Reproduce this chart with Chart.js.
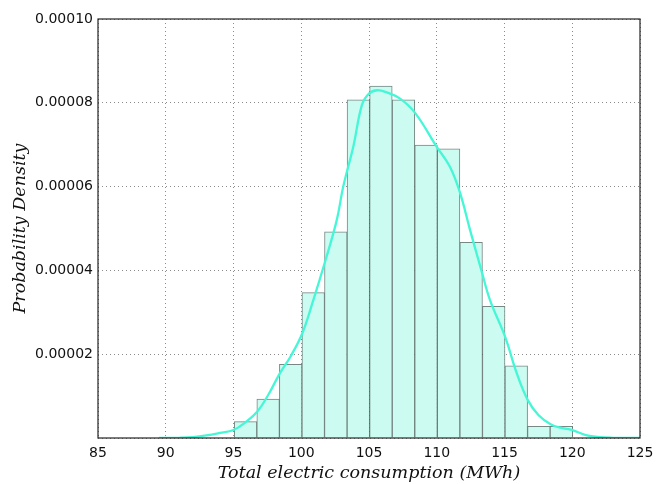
<!DOCTYPE html>
<html>
<head>
<meta charset="utf-8">
<script src="https://cdn.jsdelivr.net/npm/chart.js@4"></script>
<style>
  html, body { margin: 0; padding: 0; background: #fff; }
  #wrap { width: 656px; height: 484px; position: relative; }
</style>
</head>
<body>
<div id="wrap"><canvas id="chart-hist"></canvas></div>
<script>
// histogram bins (edges) and their density heights
const binEdges = [95.06, 96.72, 98.39, 100.05, 101.72, 103.38, 105.05, 106.71, 108.38, 110.04, 111.71, 113.37, 115.04, 116.70, 118.37, 120.03];
const binDensity = [3.9e-6, 9.3e-6, 1.76e-5, 3.47e-5, 4.92e-5, 8.07e-5, 8.40e-5, 8.07e-5, 6.99e-5, 6.90e-5, 4.67e-5, 3.14e-5, 1.72e-5, 2.8e-6, 2.8e-6];

// kernel density curve
const kdeX = [89.5, 91, 92, 93, 94, 95, 95.9, 96.76, 97.6, 98.43, 99.2, 100.08, 100.89, 101.75, 102.62, 103.1, 103.84, 104.48, 105.0, 105.6, 106.3, 107.29, 108.4, 110.0, 110.98, 111.72, 112.46, 113.32, 113.93, 115.04, 115.9, 116.71, 117.5, 118.4, 119.2, 120, 121, 122, 123, 125];
const kdeY = [0, 5e-8, 2e-7, 6e-7, 1.2e-6, 1.9e-6, 3.8e-6, 6.3e-6, 1.05e-5, 1.55e-5, 1.94e-5, 2.5e-5, 3.29e-5, 4.2e-5, 5.2e-5, 6.0e-5, 6.95e-5, 7.95e-5, 8.22e-5, 8.3e-5, 8.25e-5, 8.1e-5, 7.76e-5, 6.95e-5, 6.47e-5, 5.85e-5, 4.96e-5, 3.97e-5, 3.29e-5, 2.42e-5, 1.55e-5, 9.1e-6, 5.5e-6, 3.3e-6, 2.4e-6, 1.9e-6, 7e-7, 2e-7, 5e-8, 0];

// axis ranges / ticks
const xMin = 85, xMax = 125, xStep = 5;
const yMin = 0, yMax = 0.0001, yStep = 0.00002;

const histPoints = binDensity.map((d, i) => ({ x: (binEdges[i] + binEdges[i + 1]) / 2, y: d }));
const kdePoints = kdeX.map((x, i) => ({ x: x, y: kdeY[i] }));

// matplotlib-style box around the axes
const frame = {
  id: 'frame',
  afterDraw(chart) {
    const { ctx, chartArea: a } = chart;
    ctx.save();
    ctx.strokeStyle = '#222';
    ctx.lineWidth = 1.2;
    ctx.strokeRect(a.left, a.top, a.right - a.left, a.bottom - a.top);
    ctx.restore();
  }
};

const titleFont = { family: '"DejaVu Serif"', style: 'italic', size: 17.5 };
const tickFont = { family: '"DejaVu Sans"', size: 14 };

new Chart(document.getElementById('chart-hist'), {
  data: {
    datasets: [
      {
        type: 'line',
        data: kdePoints,
        borderColor: '#45f7d6',
        borderWidth: 2.3,
        pointRadius: 0,
        tension: 0.4,
        fill: false,
        order: 0
      },
      {
        type: 'bar',
        data: histPoints,
        backgroundColor: '#ccfcf1',
        borderColor: 'rgba(85,105,100,0.8)',
        borderWidth: 1,
        barPercentage: 1,
        categoryPercentage: 1,
        grouped: false,
        order: 1
      }
    ]
  },
  options: {
    responsive: true,
    maintainAspectRatio: false,
    animation: false,
    layout: { padding: { top: 19, right: 16, left: 0, bottom: 0 } },
    plugins: {
      legend: { display: false },
      tooltip: { enabled: false }
    },
    scales: {
      x: {
        type: 'linear',
        min: xMin,
        max: xMax,
        offset: false,
        z: 1,
        border: { display: false, dash: [1, 3] },
        grid: { color: 'rgba(0,0,0,0.45)', drawTicks: false, offset: false },
        ticks: { stepSize: xStep, color: '#111', font: tickFont, padding: 7, maxRotation: 0 },
        title: { display: true, text: 'Total electric consumption (MWh)', color: '#111', font: titleFont, padding: { top: 0, bottom: 0 } },
        afterFit: (s) => { s.height = 46; s.paddingLeft = 0; s.paddingRight = 0; }
      },
      y: {
        min: yMin,
        max: yMax,
        z: 1,
        border: { display: false, dash: [1, 3] },
        grid: { color: 'rgba(0,0,0,0.45)', drawTicks: false },
        ticks: {
          stepSize: yStep,
          color: '#111',
          font: tickFont,
          padding: 5,
          callback: (v) => v === 0 ? '' : v.toFixed(5)
        },
        title: { display: true, text: 'Probability Density', color: '#111', font: titleFont, padding: { top: 10, bottom: 10 } },
        afterFit: (s) => { s.width = 98; s.paddingTop = 0; s.paddingBottom = 0; }
      }
    }
  },
  plugins: [frame]
});
</script>
</body>
</html>
